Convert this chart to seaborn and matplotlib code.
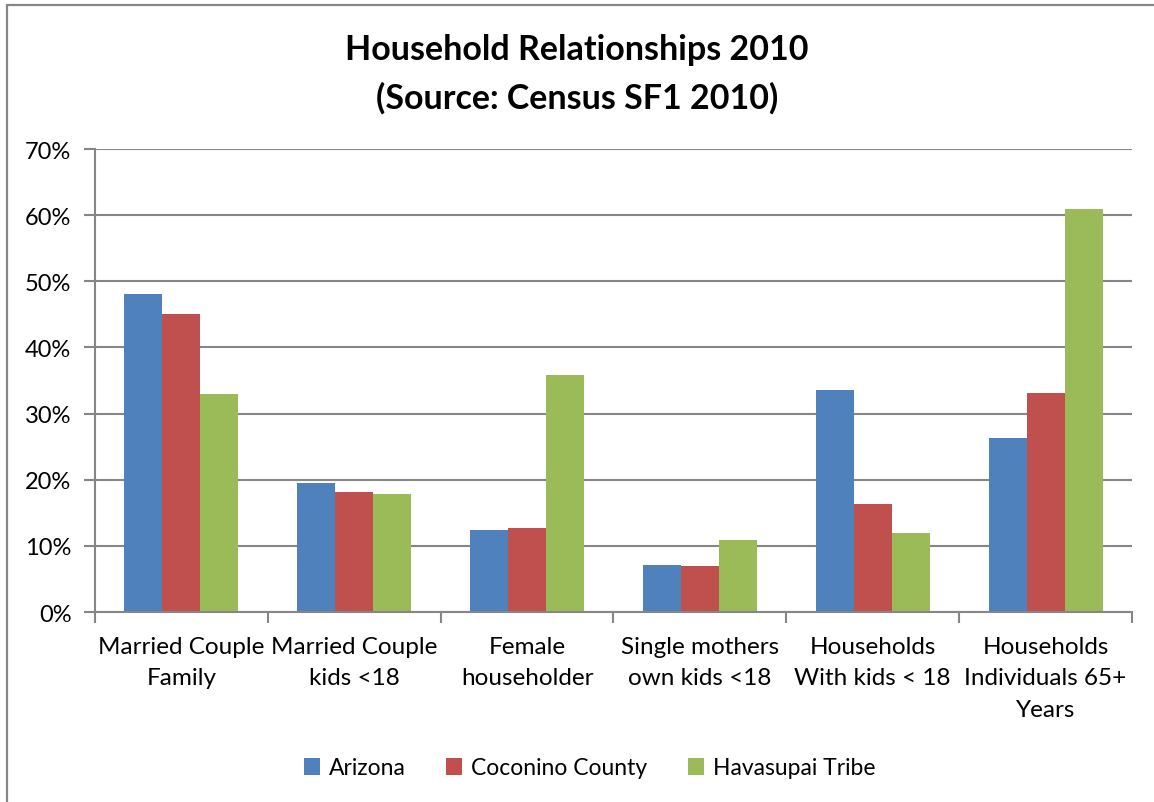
import matplotlib
matplotlib.use("Agg")
import matplotlib.pyplot as plt
import seaborn as sns
import pandas as pd
from matplotlib.lines import Line2D
from matplotlib.ticker import FixedLocator, PercentFormatter

categories = ["Married Couple\nFamily", "Married Couple\nkids <18", "Female\nhouseholder",
              "Single mothers\nown kids <18", "Households\nWith kids < 18",
              "Households\nIndividuals 65+\nYears"]
series = ["Arizona", "Coconino County", "Havasupai Tribe"]
arizona = [48.1, 19.5, 12.4, 7.1, 33.5, 26.3]
coconino = [45.0, 18.1, 12.7, 7.0, 16.3, 33.1]
havasupai = [33.0, 17.9, 35.9, 10.9, 11.9, 60.9]
colors = ["#4F81BD", "#C0504D", "#9BBB59"]

rows = []
for s, vals in zip(series, [arizona, coconino, havasupai]):
    for c, v in zip(categories, vals):
        rows.append({"category": c, "series": s, "value": v})
df = pd.DataFrame(rows)

sns.set_theme(style="white")
plt.rcParams["font.family"] = ["Lato", "DejaVu Sans"]
plt.rcParams["text.color"] = "black"

W, H = 1154, 803
fig = plt.figure(figsize=(W / 100, H / 100), dpi=100)
ax = fig.add_axes([95 / W, 1 - 613 / H, (1132 - 95) / W, (613 - 150) / H])

sns.barplot(data=df, x="category", y="value", hue="series", order=categories,
            hue_order=series, palette=colors, width=0.66, gap=0, saturation=1,
            edgecolor="none", linewidth=0, ax=ax, legend=True)

ax.set_ylim(0, 70)
ax.set_xlim(-0.5, 5.5)
ax.set_yticks(range(0, 71, 10))
ax.yaxis.set_major_formatter(PercentFormatter(decimals=0))
ax.yaxis.grid(True, color="#868686", linewidth=1.5)
ax.set_axisbelow(True)
for sp in ["top", "right"]:
    ax.spines[sp].set_visible(False)
for sp in ["left", "bottom"]:
    ax.spines[sp].set_color("#868686")
    ax.spines[sp].set_linewidth(1.5)
ax.set_xlabel("")
ax.set_ylabel("")
ax.tick_params(axis="y", which="major", length=8, width=1.5, color="#868686",
               labelsize=17, pad=9, direction="out", left=True, labelcolor="black")
ax.tick_params(axis="x", which="major", length=0, labelsize=17.5, pad=17, labelcolor="black")
ax.xaxis.set_minor_locator(FixedLocator([i - 0.5 for i in range(7)]))
ax.tick_params(axis="x", which="minor", length=8, width=1.5, color="#868686",
               direction="out", bottom=True)
for lbl in ax.get_xticklabels():
    lbl.set_linespacing(1.62)

handles, labels = ax.get_legend_handles_labels()
ax.get_legend().remove()
fig.legend(handles, labels, loc="center", bbox_to_anchor=(0.511, 1 - 769 / H),
           ncol=3, frameon=False, fontsize=16.5, handlelength=0.7, handleheight=0.7,
           handletextpad=0.4, columnspacing=1.75)

fig.text(0.5, 1 - 50 / H, "Household Relationships 2010", ha="center", va="center",
         fontsize=24.5, fontweight="bold")
fig.text(0.5, 1 - 98 / H, "(Source: Census SF1 2010)", ha="center", va="center",
         fontsize=24.5, fontweight="bold")

# chart frame (top and left edges visible)
fig.add_artist(Line2D([6.5 / W, 1], [1 - 5.5 / H, 1 - 5.5 / H], transform=fig.transFigure,
                      color="#868686", linewidth=1.6))
fig.add_artist(Line2D([6.5 / W, 6.5 / W], [0, 1 - 5.5 / H], transform=fig.transFigure,
                      color="#868686", linewidth=1.6))

fig.savefig("out.png", dpi=100)
